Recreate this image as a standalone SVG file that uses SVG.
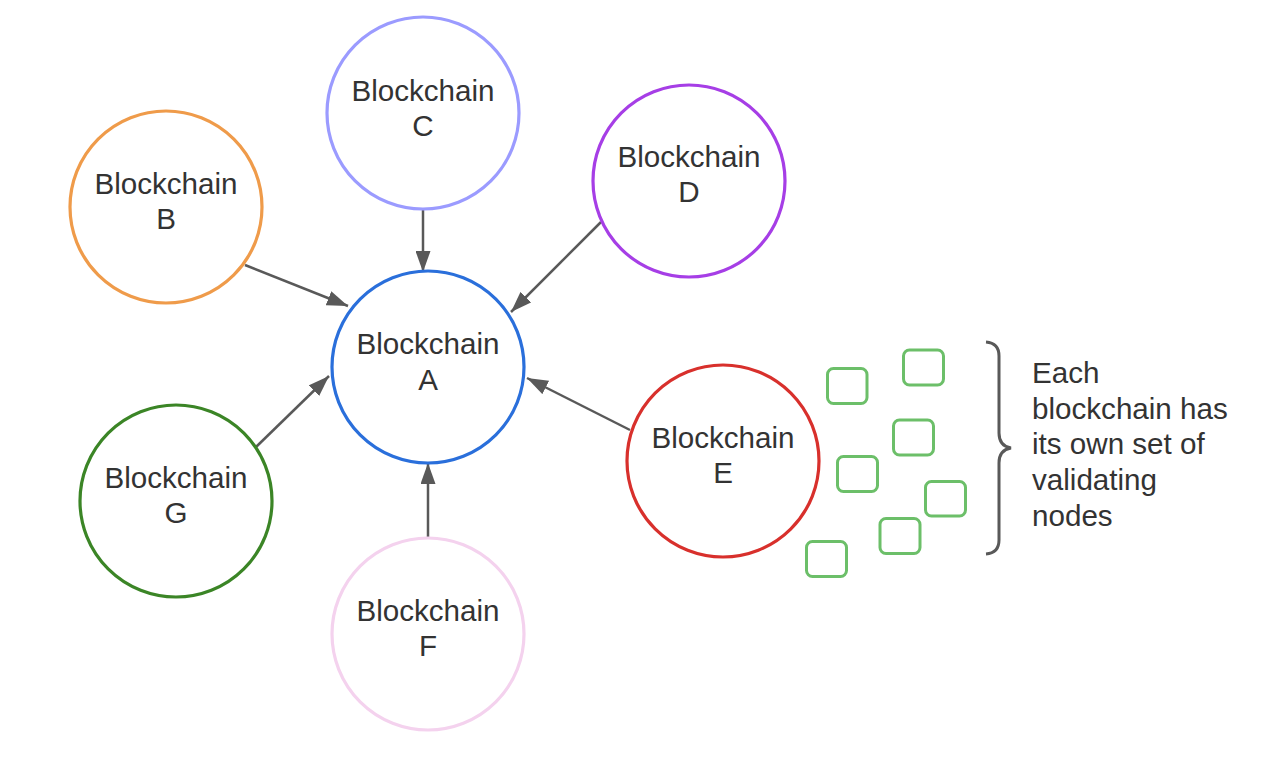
<svg xmlns="http://www.w3.org/2000/svg" width="1270" height="758" viewBox="0 0 1270 758">
<defs>
<marker id="ah" viewBox="0 0 21 15" refX="21" refY="7.5" markerWidth="21" markerHeight="15" markerUnits="userSpaceOnUse" orient="auto">
<path d="M0,0 L21,7.5 L0,15 Z" fill="#595959"/>
</marker>
<style>
.node{fill:#fff;stroke-width:3.2}
.lbl{font-family:"Liberation Sans",Arial,sans-serif;font-size:29.6px;fill:#333;text-anchor:middle}
.ann{font-family:"Liberation Sans",Arial,sans-serif;font-size:29.6px;fill:#333}
.conn{stroke:#595959;stroke-width:2.5;fill:none;marker-end:url(#ah)}
.val{fill:none;stroke:#6cbf69;stroke-width:3}
</style>
</defs>
<rect width="1270" height="758" fill="#fff"/>
<g id="connectors">
<line class="conn" x1="423" y1="208" x2="423" y2="272"/>
<line class="conn" x1="245" y1="265" x2="348" y2="306"/>
<line class="conn" x1="601" y1="222" x2="511" y2="312"/>
<line class="conn" x1="256" y1="447" x2="329" y2="376"/>
<line class="conn" x1="630" y1="430" x2="527" y2="378"/>
<line class="conn" x1="428" y1="540" x2="428" y2="463"/>
</g>
<g id="nodeA"><circle class="node" cx="428" cy="367" r="96" stroke="#2a6fdb"/><text class="lbl" x="428" y="354">Blockchain</text><text class="lbl" x="428" y="390">A</text></g>
<g id="nodeB"><circle class="node" cx="166" cy="207" r="96" stroke="#ef9b4a"/><text class="lbl" x="166" y="194">Blockchain</text><text class="lbl" x="166" y="229">B</text></g>
<g id="nodeC"><circle class="node" cx="423" cy="113" r="96" stroke="#9b9bff"/><text class="lbl" x="423" y="101">Blockchain</text><text class="lbl" x="423" y="136">C</text></g>
<g id="nodeD"><circle class="node" cx="689" cy="181" r="96" stroke="#a63ee6"/><text class="lbl" x="689" y="167">Blockchain</text><text class="lbl" x="689" y="202">D</text></g>
<g id="nodeE"><circle class="node" cx="723" cy="461" r="96" stroke="#d8302c"/><text class="lbl" x="723" y="448">Blockchain</text><text class="lbl" x="723" y="483">E</text></g>
<g id="nodeF"><circle class="node" cx="428" cy="634" r="96" stroke="#f4d2ee"/><text class="lbl" x="428" y="621">Blockchain</text><text class="lbl" x="428" y="656">F</text></g>
<g id="nodeG"><circle class="node" cx="176" cy="501" r="96" stroke="#3b8526"/><text class="lbl" x="176" y="488">Blockchain</text><text class="lbl" x="176" y="523">G</text></g>
<g id="validators">
<rect class="val" x="827.5" y="368.5" width="39.5" height="35" rx="6"/>
<rect class="val" x="903.5" y="350" width="40" height="35" rx="6"/>
<rect class="val" x="893.5" y="420" width="40" height="35" rx="6"/>
<rect class="val" x="837.5" y="456.5" width="40" height="35" rx="6"/>
<rect class="val" x="925.5" y="481.5" width="40" height="34.5" rx="6"/>
<rect class="val" x="880" y="518.5" width="40" height="35" rx="6"/>
<rect class="val" x="806.5" y="541.5" width="40" height="35" rx="6"/>
</g>
<g id="brace">
<path d="M986,342 Q999,343 999,356 L999,433 Q999,446 1011,448 Q999,450 999,463 L999,540 Q999,553 986,554" fill="none" stroke="#595959" stroke-width="3"/>
</g>
<g id="annotation">
<text class="ann" x="1032" y="383">Each</text>
<text class="ann" x="1032" y="419">blockchain has</text>
<text class="ann" x="1032" y="454">its own set of</text>
<text class="ann" x="1032" y="490">validating</text>
<text class="ann" x="1032" y="526">nodes</text>
</g>
</svg>
